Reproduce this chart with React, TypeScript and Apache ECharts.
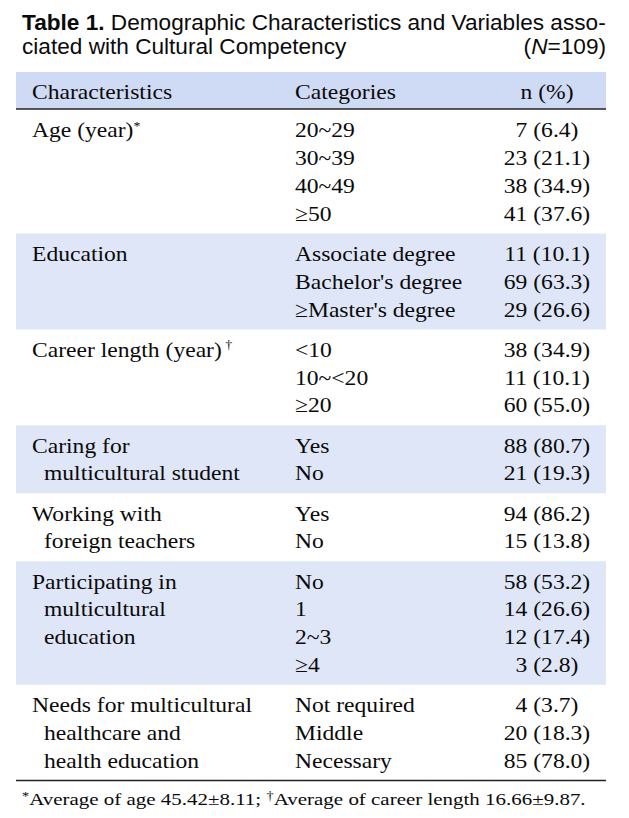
import React, { useEffect, useRef } from 'react';
import * as echarts from 'echarts';

const titleLead = 'Table 1.';
const titleRest1 = ' Demographic Characteristics and Variables asso-';
const titleLine2 = 'ciated with Cultural Competency';
const sampleSize = 109;
const headers = ['Characteristics', 'Categories', 'n (%)'];

const characteristics: string[][] = [
  ['Age (year)'],
  ['Education'],
  ['Career length (year)'],
  ['Caring for', 'multicultural student'],
  ['Working with', 'foreign teachers'],
  ['Participating in', 'multicultural', 'education'],
  ['Needs for multicultural', 'healthcare and', 'health education'],
];
const marks = ['*', '', ' †', '', '', '', ''];
const categories: string[][] = [
  ['20~29', '30~39', '40~49', '≥50'],
  ['Associate degree', "Bachelor's degree", "≥Master's degree"],
  ['<10', '10~<20', '≥20'],
  ['Yes', 'No'],
  ['Yes', 'No'],
  ['No', '1', '2~3', '≥4'],
  ['Not required', 'Middle', 'Necessary'],
];
const counts: number[][] = [
  [7, 23, 38, 41],
  [11, 69, 29],
  [38, 11, 60],
  [88, 21],
  [94, 15],
  [58, 14, 12, 3],
  [4, 20, 85],
];
const percents: string[][] = [
  ['6.4', '21.1', '34.9', '37.6'],
  ['10.1', '63.3', '26.6'],
  ['34.9', '10.1', '55.0'],
  ['80.7', '19.3'],
  ['86.2', '13.8'],
  ['53.2', '26.6', '17.4', '2.8'],
  ['3.7', '18.3', '78.0'],
];
const footMarks = ['*', '†'];
const footTexts = ['Average of age 45.42±8.11; ', 'Average of career length 16.66±9.87.'];

const SANS = '"Liberation Sans", Arial, sans-serif';
const SERIF = '"Liberation Serif", "Times New Roman", serif';

function measure(text: string, font: string): number {
  const c = document.createElement('canvas').getContext('2d')!;
  c.font = font;
  return c.measureText(text).width;
}

function buildGraphics() {
  const L = 16, R = 606;
  const els: any[] = [];
  const ink = '#0a0a0a';

  // Title
  const tSize = 22.5;
  const wLead = measure(titleLead, `bold ${tSize}px ${SANS}`);
  const wRest = measure(titleRest1, `${tSize}px ${SANS}`);
  const tScale = (606 - 22) / (wLead + wRest);
  const titleRich = {
    b: { fontFamily: SANS, fontSize: tSize, fontWeight: 'bold', fill: ink },
    r: { fontFamily: SANS, fontSize: tSize, fill: ink },
    i: { fontFamily: SANS, fontSize: tSize, fontStyle: 'italic', fill: ink },
  };
  els.push({
    type: 'text', x: 22, y: 23, scaleX: tScale,
    style: { text: `{b|${titleLead}}{r|${titleRest1}}`, rich: titleRich, align: 'left', verticalAlign: 'middle', textAlign: 'left', textVerticalAlign: 'middle' },
  });
  els.push({
    type: 'text', x: 22, y: 47, scaleX: tScale,
    style: { text: `{r|${titleLine2}}`, rich: titleRich, align: 'left', verticalAlign: 'middle', textAlign: 'left', textVerticalAlign: 'middle' },
  });
  els.push({
    type: 'text', x: 606, y: 47, scaleX: tScale,
    style: { text: `{r|(}{i|N}{r|=${sampleSize})}`, rich: titleRich, align: 'right', verticalAlign: 'middle', textAlign: 'right', textVerticalAlign: 'middle' },
  });

  // body font scale
  const bSize = 22;
  const bScale = 220 / measure('Needs for multicultural', `${bSize}px ${SERIF}`);
  const bodyRich = {
    n: { fontFamily: SERIF, fontSize: bSize, fill: ink },
    s: { fontFamily: SERIF, fontSize: 13, fill: ink, verticalAlign: 'top', padding: [0, 0, 8, 0] },
  };
  const txt = (x: number, y: number, text: string, align: string) => ({
    type: 'text', x, y, scaleX: bScale,
    style: { text, fontFamily: SERIF, fontSize: bSize, fill: ink, align, verticalAlign: 'middle', textAlign: align, textVerticalAlign: 'middle' },
  });

  const colChar = 32, colCharIndent = 44, colCat = 295, colN = 547;

  // Header band
  const headTop = 72, headBottom = 109;
  els.push({ type: 'rect', shape: { x: L, y: headTop, width: R - L, height: headBottom - headTop }, style: { fill: '#cfdaf4' } });
  const hy = (headTop + headBottom) / 2 + 1;
  els.push(txt(colChar, hy, headers[0], 'left'));
  els.push(txt(colCat, hy, headers[1], 'left'));
  els.push(txt(colN, hy, headers[2], 'center'));

  // Groups
  const rowH = 27.8, pad = 12.4;
  let top = headBottom + 1;
  characteristics.forEach((lines, g) => {
    const n = categories[g].length;
    const h = rowH * n + pad;
    if (g % 2 === 1) {
      els.push({ type: 'rect', shape: { x: L, y: top, width: R - L, height: h }, style: { fill: '#dfe6f8' } });
    }
    const rowY = (i: number) => top + pad / 2 + rowH / 2 + rowH * i;
    lines.forEach((line, li) => {
      const x = li === 0 ? colChar : colCharIndent;
      if (li === 0 && marks[g]) {
        els.push({
          type: 'text', x, y: rowY(li), scaleX: bScale,
          style: { text: `{n|${line}}{s|${marks[g]}}`, rich: bodyRich, align: 'left', verticalAlign: 'middle', textAlign: 'left', textVerticalAlign: 'middle' },
        });
      } else {
        els.push(txt(x, rowY(li), line, 'left'));
      }
    });
    categories[g].forEach((c, i) => {
      els.push(txt(colCat, rowY(i), c, 'left'));
      els.push(txt(colN, rowY(i), `${counts[g][i]} (${percents[g][i]})`, 'center'));
    });
    top += h;
  });

  // rules
  els.push({ type: 'line', shape: { x1: L, y1: headBottom, x2: R, y2: headBottom }, style: { stroke: '#222', lineWidth: 1.5 } });
  els.push({ type: 'line', shape: { x1: L, y1: top, x2: R, y2: top }, style: { stroke: '#222', lineWidth: 1.5 } });

  // Footnote
  const fSize = 17.5;
  const fRich = {
    n: { fontFamily: SERIF, fontSize: fSize, fill: ink },
    s: { fontFamily: SERIF, fontSize: 12, fill: ink, verticalAlign: 'top', padding: [0, 0, 7, 0] },
  };
  const fw = measure(footTexts.join(''), `${fSize}px ${SERIF}`) + measure(footMarks.join(''), `12px ${SERIF}`);
  const fScale = (586 - 22) / fw;
  els.push({
    type: 'text', x: 22, y: top + 19, scaleX: fScale,
    style: {
      text: footTexts.map((t, i) => `{s|${footMarks[i]}}{n|${t}}`).join(''),
      rich: fRich, align: 'left', verticalAlign: 'middle', textAlign: 'left', textVerticalAlign: 'middle',
    },
  });
  return els;
}

export default function App() {
  const ref = useRef<HTMLDivElement>(null);
  useEffect(() => {
    if (!ref.current) return;
    const chart = echarts.init(ref.current, null, { renderer: 'svg' });
    chart.setOption({
      animation: false,
      backgroundColor: '#ffffff',
      graphic: { elements: buildGraphics() },
    });
    return () => chart.dispose();
  }, []);
  return <div ref={ref} style={{ position: 'fixed', left: 0, top: 0, width: 629, height: 818 }} />;
}
